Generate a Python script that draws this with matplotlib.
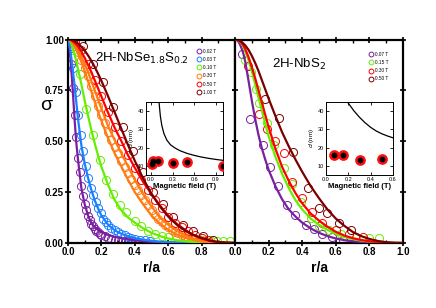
import matplotlib.pyplot as plt
from matplotlib.ticker import MultipleLocator

plt.rcParams['font.family'] = ['Liberation Sans', 'DejaVu Sans']

# ---------- data ----------
r_fit = [0.00, 0.01, 0.02, 0.03, 0.04, 0.05, 0.06, 0.08, 0.10, 0.12, 0.14, 0.16, 0.18, 0.20,
         0.24, 0.28, 0.32, 0.36, 0.40, 0.45, 0.50, 0.55, 0.60, 0.65, 0.70, 0.75, 0.80, 0.85,
         0.90, 0.95, 1.00]

# left panel: 2H-NbSe1.8S0.2 fits
fit_l_002 = [1.0, 0.95, 0.85, 0.73, 0.60, 0.49, 0.41, 0.27, 0.19, 0.135, 0.097, 0.078, 0.064, 0.053,
             0.040, 0.030, 0.023, 0.018, 0.013, 0.009, 0.006, 0.004, 0.002, 0.001, 0, 0, 0, 0, 0, 0, 0]
fit_l_003 = [1.0, 0.97, 0.91, 0.84, 0.77, 0.69, 0.61, 0.48, 0.39, 0.32, 0.26, 0.21, 0.17, 0.135,
             0.09, 0.062, 0.045, 0.033, 0.024, 0.016, 0.011, 0.007, 0.004, 0.002, 0.001, 0, 0, 0, 0, 0, 0]
fit_l_010 = [1.0, 0.995, 0.98, 0.955, 0.925, 0.89, 0.855, 0.78, 0.70, 0.625, 0.555, 0.49, 0.43, 0.375,
             0.285, 0.21, 0.16, 0.125, 0.10, 0.072, 0.05, 0.034, 0.022, 0.014, 0.009, 0.005, 0.003,
             0.001, 0, 0, 0]
fit_l_030a = [1.0, 0.997, 0.99, 0.98, 0.966, 0.95, 0.93, 0.89, 0.845, 0.795, 0.745, 0.695, 0.645, 0.60,
              0.515, 0.44, 0.375, 0.31, 0.25, 0.19, 0.135, 0.095, 0.065, 0.042, 0.026, 0.015, 0.007,
              0.002, 0, 0, 0]
fit_l_030b = [1.0, 0.998, 0.993, 0.985, 0.975, 0.962, 0.948, 0.915, 0.88, 0.84, 0.795, 0.75, 0.705, 0.66,
              0.575, 0.505, 0.44, 0.375, 0.31, 0.24, 0.18, 0.125, 0.09, 0.06, 0.038, 0.022, 0.012,
              0.005, 0.001, 0, 0]
fit_l_050 = [1.0, 0.999, 0.996, 0.99, 0.983, 0.975, 0.965, 0.94, 0.91, 0.875, 0.84, 0.80, 0.76, 0.72,
             0.64, 0.565, 0.50, 0.43, 0.37, 0.30, 0.24, 0.185, 0.135, 0.095, 0.065, 0.04, 0.022, 0.01,
             0.004, 0.001, 0]
fit_l_100 = [1.0, 0.999, 0.998, 0.995, 0.991, 0.986, 0.98, 0.964, 0.945, 0.922, 0.895, 0.865, 0.832, 0.797,
             0.721, 0.641, 0.56, 0.48, 0.404, 0.317, 0.242, 0.18, 0.13, 0.091, 0.062, 0.04, 0.025,
             0.012, 0.005, 0.002, 0]

# left panel: measured points
r_l_002 = [0.01, 0.02, 0.03, 0.04, 0.05, 0.06, 0.07, 0.08, 0.09, 0.10, 0.11, 0.12, 0.13, 0.14, 0.15,
           0.16, 0.17, 0.18, 0.19, 0.20, 0.22, 0.24, 0.26, 0.28, 0.30, 0.32, 0.34, 0.36, 0.38, 0.40, 0.42]
s_l_002 = [0.97, 0.88, 0.76, 0.63, 0.52, 0.42, 0.35, 0.28, 0.23, 0.19, 0.16, 0.135, 0.115, 0.095, 0.082,
           0.07, 0.06, 0.052, 0.045, 0.04, 0.032, 0.026, 0.021, 0.017, 0.014, 0.012, 0.01, 0.008, 0.007,
           0.006, 0.005]
r_l_003 = [0.015, 0.03, 0.045, 0.06, 0.075, 0.09, 0.105, 0.12, 0.135, 0.15, 0.165, 0.18, 0.195, 0.21,
           0.225, 0.24, 0.26, 0.28, 0.30, 0.32, 0.34, 0.36, 0.38, 0.40, 0.43, 0.46, 0.49]
s_l_003 = [0.96, 0.86, 0.74, 0.63, 0.53, 0.45, 0.38, 0.32, 0.27, 0.235, 0.20, 0.17, 0.145, 0.12, 0.105,
           0.09, 0.075, 0.062, 0.052, 0.044, 0.037, 0.031, 0.026, 0.022, 0.017, 0.013, 0.01]
r_l_010 = [0.03, 0.07, 0.11, 0.15, 0.19, 0.23, 0.27, 0.31, 0.35, 0.40, 0.44, 0.48, 0.52, 0.56, 0.60,
           0.65, 0.70, 0.75, 0.80, 0.85, 0.89, 0.93, 0.97]
s_l_010 = [0.95, 0.83, 0.66, 0.53, 0.41, 0.31, 0.24, 0.185, 0.15, 0.11, 0.085, 0.06, 0.045, 0.035, 0.03,
           0.025, 0.02, 0.018, 0.015, 0.015, 0.012, 0.012, 0.01]
r_l_030 = [0.02, 0.04, 0.06, 0.08, 0.10, 0.12, 0.14, 0.16, 0.18, 0.20, 0.22, 0.24, 0.26, 0.28, 0.30,
           0.32, 0.34, 0.36, 0.38, 0.40, 0.42, 0.44, 0.46, 0.48, 0.50, 0.52, 0.54, 0.56, 0.58, 0.60,
           0.62, 0.64, 0.66, 0.68, 0.70, 0.72, 0.74, 0.76, 0.78, 0.80, 0.82, 0.84]
s_l_030 = [0.99, 0.97, 0.94, 0.90, 0.86, 0.82, 0.77, 0.72, 0.675, 0.63, 0.59, 0.545, 0.505, 0.47, 0.44,
           0.405, 0.375, 0.345, 0.315, 0.285, 0.26, 0.235, 0.21, 0.185, 0.16, 0.14, 0.12, 0.105, 0.09,
           0.078, 0.066, 0.056, 0.047, 0.04, 0.033, 0.027, 0.022, 0.018, 0.014, 0.011, 0.009, 0.007]
r_l_050 = [0.04, 0.08, 0.12, 0.16, 0.20, 0.24, 0.28, 0.32, 0.36, 0.40, 0.44, 0.48, 0.52, 0.56, 0.60,
           0.64, 0.68, 0.72, 0.76, 0.80, 0.84]
s_l_050 = [0.99, 0.95, 0.88, 0.80, 0.72, 0.645, 0.57, 0.50, 0.43, 0.37, 0.31, 0.26, 0.21, 0.17, 0.13,
           0.10, 0.08, 0.06, 0.04, 0.025, 0.015]
r_l_100 = [0.03, 0.09, 0.15, 0.21, 0.27, 0.33, 0.39, 0.45, 0.51, 0.57, 0.63, 0.69, 0.75, 0.81, 0.87]
s_l_100 = [1.0, 0.97, 0.88, 0.79, 0.67, 0.57, 0.45, 0.35, 0.25, 0.19, 0.13, 0.09, 0.06, 0.035, 0.015]

# right panel: 2H-NbS2 fits
fit_r_007 = [1.0, 0.998, 0.99, 0.975, 0.955, 0.93, 0.895, 0.80, 0.70, 0.61, 0.53, 0.465, 0.41, 0.36,
             0.28, 0.215, 0.165, 0.13, 0.10, 0.072, 0.05, 0.034, 0.022, 0.014, 0.009, 0.005, 0.002,
             0.001, 0, 0, 0]
fit_r_015 = [1.0, 0.999, 0.995, 0.988, 0.978, 0.963, 0.945, 0.90, 0.845, 0.78, 0.715, 0.65, 0.585, 0.525,
             0.425, 0.34, 0.27, 0.21, 0.165, 0.12, 0.09, 0.065, 0.045, 0.03, 0.02, 0.012, 0.007, 0.003,
             0.001, 0, 0]
fit_r_030 = [1.0, 0.999, 0.996, 0.99, 0.982, 0.97, 0.955, 0.915, 0.865, 0.81, 0.75, 0.69, 0.63, 0.57,
             0.465, 0.375, 0.305, 0.245, 0.195, 0.145, 0.11, 0.08, 0.055, 0.037, 0.024, 0.015, 0.008,
             0.004, 0.001, 0, 0]
fit_r_050 = [1.0, 0.999, 0.997, 0.993, 0.988, 0.98, 0.972, 0.95, 0.92, 0.885, 0.845, 0.80, 0.755, 0.71,
             0.625, 0.545, 0.475, 0.41, 0.35, 0.28, 0.22, 0.165, 0.12, 0.085, 0.055, 0.034, 0.02, 0.01,
             0.004, 0.001, 0]

r_r_007 = [0.04, 0.09, 0.165, 0.21, 0.255, 0.31, 0.36, 0.42, 0.47, 0.52, 0.58, 0.64]
s_r_007 = [0.93, 0.61, 0.48, 0.375, 0.28, 0.185, 0.14, 0.09, 0.07, 0.045, 0.03, 0.015]
r_r_015 = [0.06, 0.093, 0.123, 0.145, 0.19, 0.232, 0.29, 0.34, 0.39, 0.45, 0.50, 0.56, 0.63, 0.72,
           0.80, 0.86]
s_r_015 = [0.90, 0.84, 0.755, 0.69, 0.59, 0.48, 0.37, 0.29, 0.20, 0.125, 0.085, 0.065, 0.045, 0.03,
           0.025, 0.025]
r_r_030 = [0.08, 0.145, 0.19, 0.24, 0.29, 0.34, 0.40, 0.46, 0.52, 0.60, 0.68, 0.76]
s_r_030 = [0.87, 0.635, 0.56, 0.50, 0.44, 0.30, 0.22, 0.15, 0.10, 0.065, 0.045, 0.03]
r_r_050 = [0.18, 0.26, 0.345, 0.435, 0.50, 0.55, 0.62, 0.69]
s_r_050 = [0.71, 0.615, 0.445, 0.27, 0.17, 0.145, 0.10, 0.065]

# insets: core size vs field
field_l = [0.02, 0.03, 0.10, 0.30, 0.50, 1.00]
d_l = [11, 12.5, 12.5, 11.5, 12, 10]
field_l_line = [0.11, 0.13, 0.15, 0.18, 0.22, 0.27, 0.33, 0.40, 0.50, 0.60, 0.70, 0.80, 0.90, 1.00]
d_l_line = [45, 37, 32, 27.5, 24, 21.5, 19.8, 18.3, 16.8, 15.7, 14.8, 14.1, 13.5, 13]

field_r = [0.07, 0.15, 0.30, 0.50]
d_r = [16, 16, 13, 14]
field_r_line = [0.19, 0.22, 0.25, 0.30, 0.35, 0.40, 0.45, 0.50, 0.55, 0.60]
d_r_line = [45, 42.5, 40, 36.5, 33.5, 31, 29, 27.5, 26.3, 25.3]

c_purple = '#7a1fa0'
c_blue = '#1a80ff'
c_green = '#66ee00'
c_orange = '#ff7a10'
c_red = '#ff0000'
c_dred = '#7a0000'

# ---------- plot ----------
fig = plt.figure(figsize=(4.36, 3.08), dpi=100)
ax1 = fig.add_axes([68 / 436, 1 - 243 / 308, 167 / 436, 203.5 / 308])
ax2 = fig.add_axes([235 / 436, 1 - 243 / 308, 168 / 436, 203.5 / 308])

ms = 5.8
mew = 0.7
lw = 1.6

left_pts = [(r_l_002, s_l_002, c_purple, '0.02 T'), (r_l_003, s_l_003, c_blue, '0.03 T'),
            (r_l_010, s_l_010, c_green, '0.10 T'), (r_l_030, s_l_030, c_orange, '0.30 T'),
            (r_l_050, s_l_050, c_red, '0.50 T'), (r_l_100, s_l_100, c_dred, '1.00 T')]
for rr, ss, c, lab in left_pts:
    ax1.plot(rr, ss, 'o', mfc='none', mec=c, ms=ms, mew=mew, label=lab, zorder=2)
for f, c in [(fit_l_002, c_purple), (fit_l_003, c_blue), (fit_l_010, c_green),
             (fit_l_030a, c_orange), (fit_l_030b, c_orange), (fit_l_050, c_red), (fit_l_100, c_dred)]:
    ax1.plot(r_fit, f, '-', color=c, lw=lw, zorder=3)

right_pts = [(r_r_007, s_r_007, c_purple, '0.07 T'), (r_r_015, s_r_015, c_green, '0.15 T'),
             (r_r_030, s_r_030, c_red, '0.30 T'), (r_r_050, s_r_050, c_dred, '0.50 T')]
for rr, ss, c, lab in right_pts:
    ax2.plot(rr, ss, 'o', mfc='none', mec=c, ms=ms, mew=mew, label=lab, zorder=2)
for f, c in [(fit_r_007, c_purple), (fit_r_015, c_green), (fit_r_030, c_red), (fit_r_050, c_dred)]:
    ax2.plot(r_fit, f, '-', color=c, lw=lw, zorder=3)

for ax in (ax1, ax2):
    ax.set_xlim(0, 1.0)
    ax.set_ylim(0, 1.0)
    ax.xaxis.set_major_locator(MultipleLocator(0.2))
    ax.xaxis.set_minor_locator(MultipleLocator(0.1))
    ax.yaxis.set_major_locator(MultipleLocator(0.25))
    ax.tick_params(which='major', direction='inout', length=4, width=1.2, top=True, right=True,
                   labelsize=7)
    ax.tick_params(which='minor', direction='in', length=2, width=1, top=True)
    for sp in ax.spines.values():
        sp.set_linewidth(1.6)
    ax.set_xlabel('r/a', fontsize=10, fontweight='bold', labelpad=3)

ax1.set_xticks([0, 0.2, 0.4, 0.6, 0.8])
ax1.set_xticklabels(['0.0', '0.2', '0.4', '0.6', '0.8'], fontweight='bold')
ax1.set_yticks([0, 0.25, 0.5, 0.75, 1.0])
ax1.set_yticklabels(['0.00', '0.25', '0.50', '0.75', '1.00'], fontweight='bold')
ax1.tick_params(axis='x', pad=1)
ax1.tick_params(axis='y', pad=1)
ax2.set_xticks([0, 0.2, 0.4, 0.6, 0.8, 1.0])
ax2.set_xticklabels(['0.0', '0.2', '0.4', '0.6', '0.8', '1.0'], fontweight='bold')
ax2.tick_params(axis='x', pad=1)
ax2.tick_params(axis='y', labelleft=False)
ax1.set_xlim(0, 1.0)

fig.text(46 / 436, 1 - 106 / 308, 'σ', fontsize=14, ha='center', va='center')

ax1.text(0.44, 0.905, '2H-NbSe$_{1.8}$S$_{0.2}$', transform=ax1.transAxes, fontsize=9.5,
         ha='center', va='center')
ax2.text(0.38, 0.875, '2H-NbS$_2$', transform=ax2.transAxes, fontsize=9.5, ha='center', va='center')

leg_kw = dict(frameon=False, fontsize=3.4, handlelength=0.8, handletextpad=0.6, labelspacing=0.7,
              markerscale=0.6, borderaxespad=0, loc='upper left')
ax1.legend(bbox_to_anchor=(0.76, 0.965), **leg_kw)
ax2.legend(bbox_to_anchor=(0.785, 0.95), **leg_kw)

# insets
ins1 = fig.add_axes([146 / 436, 1 - 175 / 308, 77 / 436, 73.3 / 308])
ins2 = fig.add_axes([326 / 436, 1 - 175 / 308, 67 / 436, 73.3 / 308])

ins1.plot(field_l_line, d_l_line, '-', color='black', lw=0.9)
ins1.scatter(field_l, d_l, s=45, color='#ff1010', zorder=3, clip_on=True)
ins1.scatter(field_l, d_l, s=10, color='black', zorder=4, clip_on=True)
ins1.set_xlim(-0.07, 1.0)
ins1.set_xticks([0.0, 0.3, 0.6, 0.9])
ins1.set_xticklabels(['0.0', '0.3', '0.6', '0.9'])

ins2.plot(field_r_line, d_r_line, '-', color='black', lw=0.9)
ins2.scatter(field_r, d_r, s=45, color='#ff1010', zorder=3)
ins2.scatter(field_r, d_r, s=10, color='black', zorder=4)
ins2.set_xlim(0, 0.6)
ins2.set_xticks([0.0, 0.2, 0.4, 0.6])
ins2.set_xticklabels(['0.0', '0.2', '0.4', '0.6'])

for ins in (ins1, ins2):
    ins.set_ylim(5, 45)
    ins.set_yticks([10, 20, 30, 40])
    ins.tick_params(direction='in', length=2, width=0.6, labelsize=4, pad=1.5, top=True, right=True)
    for sp in ins.spines.values():
        sp.set_linewidth(0.7)
    ins.set_xlabel('Magnetic field (T)', fontsize=5.5, fontweight='bold', labelpad=1)
    ins.set_ylabel('$d$ (nm)', fontsize=4.5, labelpad=1)

fig.savefig('out.png', dpi=100)
